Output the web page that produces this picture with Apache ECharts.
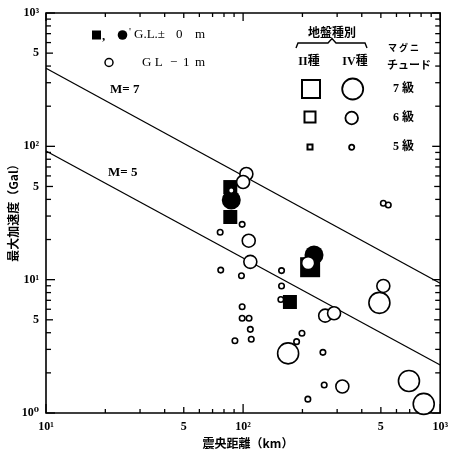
<!DOCTYPE html>
<html><head><meta charset="utf-8">
<script src="https://cdn.jsdelivr.net/npm/echarts@6/dist/echarts.min.js"></script>
<style>html,body{margin:0;padding:0;background:#fff}#c{width:451px;height:452px}</style>
</head><body><div id="c"></div>
<script>
// ---- axis ticks / labels ----
const xLabelValues = [10, 50, 100, 500, 1000];
const xLabelTexts = ['10¹', '5', '10²', '5', '10³'];
const yLabelValues = [1, 5, 10, 50, 100, 500, 1000];
const yLabelTexts = ['10⁰', '5', '10¹', '5', '10²', '5', '10³'];
const xTickValues = [10, 20, 30, 40, 50, 60, 70, 80, 90, 100, 200, 300, 400, 500, 600, 700, 800, 900, 1000];
const yTickValues = [1, 2, 3, 4, 5, 6, 7, 8, 9, 10, 20, 30, 40, 50, 60, 70, 80, 90, 100, 200, 300, 400, 500, 600, 700, 800, 900, 1000];

// ---- data: [epicentral distance km, max acceleration Gal, magnitude] ----
const filledSquares = [[86.1, 49.5, 6], [86.1, 29.5, 6], [218.8, 12.4, 7], [172.8, 6.8, 6]];
const filledCircles = [[87.1, 39.6, 7], [229, 15.3, 7]];
const openCirclesM7 = [[169.2, 2.80, 7], [491.5, 6.7, 7], [694.2, 1.74, 7], [825.0, 1.17, 7]];
const openCirclesM6 = [[103.9, 62.0, 6], [100, 54.0, 6], [106.8, 19.6, 6], [108.8, 13.6, 6], [213.8, 13.3, 6],
  [260.9, 5.37, 6], [289.4, 5.6, 6], [318.8, 1.58, 6], [514.6, 8.97, 6]];
const openCirclesM5 = [[87.1, 46.6, 5], [98.9, 26.0, 5], [76.5, 22.7, 5], [77.0, 11.8, 5], [98.1, 10.7, 5],
  [156.7, 11.7, 5], [156.7, 8.97, 5], [155.4, 7.1, 5], [98.9, 6.27, 5], [98.9, 5.13, 5], [107.2, 5.13, 5],
  [108.8, 4.24, 5], [90.9, 3.48, 5], [110.0, 3.57, 5], [198.9, 3.96, 5], [186.8, 3.43, 5], [254.1, 2.85, 5],
  [257.9, 1.62, 5], [213.1, 1.27, 5], [514.6, 37.4, 5], [545.3, 36.3, 5]];
const lineM7 = [[10, 385], [1000, 9.4]];
const lineM5 = [[10, 92.3], [1000, 2.29]];

const XMIN = 10, XMAX = 1000, YMIN = 1, YMAX = 1000;
const SERIF = '"Liberation Serif","DejaVu Serif",serif';
const CJK = '"Noto Sans CJK JP","Noto Sans CJK SC",sans-serif';

function labelOf(vals, texts) {
  return v => { for (let i = 0; i < vals.length; i++) { if (Math.abs(vals[i] - v) <= 1e-3 * vals[i]) return texts[i]; } return ''; };
}
function tickKind(v) {
  const l = Math.log10(v), r = Math.round(l);
  if (Math.abs(l - r) < 1e-6) return 2;
  const m = v / Math.pow(10, Math.floor(l + 1e-9));
  return Math.abs(m - 5) < 1e-6 ? 1 : 0;
}
const circSize = {5: 5.5, 6: 13, 7: 21};
const sqSize = {5: 7, 6: 14, 7: 20};

const chart = echarts.init(document.getElementById('c'));
const tickStyle = {stroke: '#000', lineWidth: 1.3};
const openStyle = {color: '#fff', borderColor: '#000', borderWidth: 1.6, opacity: 1};

chart.setOption({
  animation: false,
  backgroundColor: '#fff',
  grid: {left: 46, right: 5, top: 13, bottom: 39, show: true, borderColor: '#000', borderWidth: 1.6, backgroundColor: 'transparent'},
  xAxis: {
    type: 'log', logBase: 10, min: XMIN, max: XMAX,
    axisLine: {show: false}, axisTick: {show: false}, splitLine: {show: false}, minorTick: {show: false},
    axisLabel: {customValues: xLabelValues, formatter: labelOf(xLabelValues, xLabelTexts), margin: 8,
      color: '#000', fontFamily: SERIF, fontWeight: 'bold', fontSize: 12}
  },
  yAxis: {
    type: 'log', logBase: 10, min: YMIN, max: YMAX,
    axisLine: {show: false}, axisTick: {show: false}, splitLine: {show: false}, minorTick: {show: false},
    axisLabel: {customValues: yLabelValues, formatter: labelOf(yLabelValues, yLabelTexts), margin: 7,
      color: '#000', fontFamily: SERIF, fontWeight: 'bold', fontSize: 12}
  },
  series: [
    {
      type: 'custom', silent: true, clip: false, z: 1,
      data: xTickValues.map(v => [v, YMIN]),
      renderItem: (params, api) => {
        const v = api.value(0), k = tickKind(v);
        const b = api.coord([v, YMIN]), t = api.coord([v, YMAX]);
        const lb = [4, 6, 9][k], lt = [4, 5, 8][k];
        return {type: 'group', children: [
          {type: 'line', shape: {x1: b[0], y1: b[1], x2: b[0], y2: b[1] - lb}, style: tickStyle},
          {type: 'line', shape: {x1: t[0], y1: t[1], x2: t[0], y2: t[1] + lt}, style: tickStyle}
        ]};
      }
    },
    {
      type: 'custom', silent: true, clip: false, z: 1,
      data: yTickValues.map(v => [XMIN, v]),
      renderItem: (params, api) => {
        const v = api.value(1), k = tickKind(v);
        const l = api.coord([XMIN, v]), r = api.coord([XMAX, v]);
        const ll = [5, 7, 9][k], lr = [5, 6, 8][k];
        return {type: 'group', children: [
          {type: 'line', shape: {x1: l[0], y1: l[1], x2: l[0] + ll, y2: l[1]}, style: tickStyle},
          {type: 'line', shape: {x1: r[0], y1: r[1], x2: r[0] - lr, y2: r[1]}, style: tickStyle}
        ]};
      }
    },
    {type: 'line', data: lineM7, symbol: 'none', lineStyle: {color: '#000', width: 1.3}, z: 2, silent: true},
    {type: 'line', data: lineM5, symbol: 'none', lineStyle: {color: '#000', width: 1.3}, z: 2, silent: true},
    {type: 'scatter', data: filledCircles, symbol: 'circle', symbolSize: d => 19,
      itemStyle: {color: '#000', opacity: 1}, z: 3},
    {type: 'scatter', data: filledSquares, symbol: 'rect', symbolSize: d => sqSize[d[2]],
      itemStyle: {color: '#000', opacity: 1}, z: 4},
    {type: 'scatter', data: openCirclesM7, symbol: 'circle', symbolSize: d => circSize[d[2]], itemStyle: openStyle, z: 5},
    {type: 'scatter', data: openCirclesM6, symbol: 'circle', symbolSize: d => circSize[d[2]], itemStyle: openStyle, z: 6},
    {type: 'scatter', data: openCirclesM5, symbol: 'circle', symbolSize: d => circSize[d[2]], itemStyle: openStyle, z: 7}
  ],
  graphic: [
    // axis titles
    {type: 'text', x: 248, y: 443, style: {text: '震央距離（km）', font: 'bold 12px ' + CJK, fill: '#000', align: 'center', verticalAlign: 'middle'}},
    {type: 'text', x: 13, y: 210, rotation: Math.PI / 2, style: {text: '最大加速度（Gal）', font: 'bold 12px ' + CJK, fill: '#000', align: 'center', verticalAlign: 'middle'}},
    // magnitude line labels
    {type: 'text', x: 110, y: 90, style: {text: 'M= 7', font: 'bold 13px ' + SERIF, fill: '#000', verticalAlign: 'middle'}},
    {type: 'text', x: 108, y: 173, style: {text: 'M= 5', font: 'bold 13px ' + SERIF, fill: '#000', verticalAlign: 'middle'}},
    // top-left legend
    {type: 'rect', shape: {x: 92, y: 30.5, width: 9, height: 9}, style: {fill: '#000'}},
    {type: 'text', x: 102, y: 37, style: {text: ',', font: 'bold 13px ' + SERIF, fill: '#000', verticalAlign: 'middle'}},
    {type: 'circle', shape: {cx: 122.5, cy: 35, r: 4.8}, style: {fill: '#000'}},
    {type: 'text', x: 129, y: 32, style: {text: '\'', font: '11px ' + SERIF, fill: '#000', verticalAlign: 'middle'}},
    {type: 'text', x: 134, y: 35, style: {text: 'G.L.±', font: '13px ' + SERIF, fill: '#000', verticalAlign: 'middle'}},
    {type: 'text', x: 176, y: 35, style: {text: '0', font: '13px ' + SERIF, fill: '#000', verticalAlign: 'middle'}},
    {type: 'text', x: 195, y: 35, style: {text: 'm', font: '13px ' + SERIF, fill: '#000', verticalAlign: 'middle'}},
    {type: 'circle', shape: {cx: 109, cy: 62.5, r: 4}, style: {fill: '#fff', stroke: '#000', lineWidth: 1.5}},
    {type: 'text', x: 142, y: 62.5, style: {text: 'G L', font: '13px ' + SERIF, fill: '#000', verticalAlign: 'middle'}},
    {type: 'text', x: 170, y: 62.5, style: {text: '−', font: '13px ' + SERIF, fill: '#000', verticalAlign: 'middle'}},
    {type: 'text', x: 183, y: 62.5, style: {text: '1', font: '13px ' + SERIF, fill: '#000', verticalAlign: 'middle'}},
    {type: 'text', x: 195, y: 62.5, style: {text: 'm', font: '13px ' + SERIF, fill: '#000', verticalAlign: 'middle'}},
    // right legend
    {type: 'text', x: 332, y: 32, style: {text: '地盤種別', font: 'bold 12px ' + CJK, fill: '#000', align: 'center', verticalAlign: 'middle'}},
    {type: 'polyline', shape: {points: [[296, 48], [298, 43], [328, 43], [332, 38.5], [336, 43], [365, 43], [367, 48]]}, style: {stroke: '#000', lineWidth: 1.4, fill: null}},
    {type: 'text', x: 309, y: 62, style: {text: 'II種', font: 'bold 12px ' + SERIF + ',' + CJK, fill: '#000', align: 'center', verticalAlign: 'middle'}},
    {type: 'text', x: 355, y: 62, style: {text: 'IV種', font: 'bold 12px ' + SERIF + ',' + CJK, fill: '#000', align: 'center', verticalAlign: 'middle'}},
    {type: 'text', x: 388, y: 48, style: {text: 'マ グ ニ', font: 'bold 9px ' + CJK, fill: '#000', verticalAlign: 'middle'}},
    {type: 'text', x: 387, y: 65, style: {text: 'チュード', font: 'bold 11px ' + CJK, fill: '#000', verticalAlign: 'middle'}},
    {type: 'rect', shape: {x: 302, y: 80, width: 18, height: 18}, style: {fill: '#fff', stroke: '#000', lineWidth: 2}},
    {type: 'rect', shape: {x: 304.5, y: 111.5, width: 11, height: 11}, style: {fill: '#fff', stroke: '#000', lineWidth: 2}},
    {type: 'rect', shape: {x: 307.5, y: 144.5, width: 5, height: 5}, style: {fill: '#fff', stroke: '#000', lineWidth: 2}},
    {type: 'circle', shape: {cx: 352.7, cy: 89, r: 10.5}, style: {fill: '#fff', stroke: '#000', lineWidth: 1.8}},
    {type: 'circle', shape: {cx: 351.7, cy: 118, r: 6.3}, style: {fill: '#fff', stroke: '#000', lineWidth: 1.8}},
    {type: 'circle', shape: {cx: 351.7, cy: 147.3, r: 2.6}, style: {fill: '#fff', stroke: '#000', lineWidth: 1.8}},
    {type: 'text', x: 393, y: 89, style: {text: '7 級', font: 'bold 12px ' + SERIF + ',' + CJK, fill: '#000', verticalAlign: 'middle'}},
    {type: 'text', x: 393, y: 118, style: {text: '6 級', font: 'bold 12px ' + SERIF + ',' + CJK, fill: '#000', verticalAlign: 'middle'}},
    {type: 'text', x: 393, y: 147, style: {text: '5 級', font: 'bold 12px ' + SERIF + ',' + CJK, fill: '#000', verticalAlign: 'middle'}}
  ]
});
</script>
</body></html>
